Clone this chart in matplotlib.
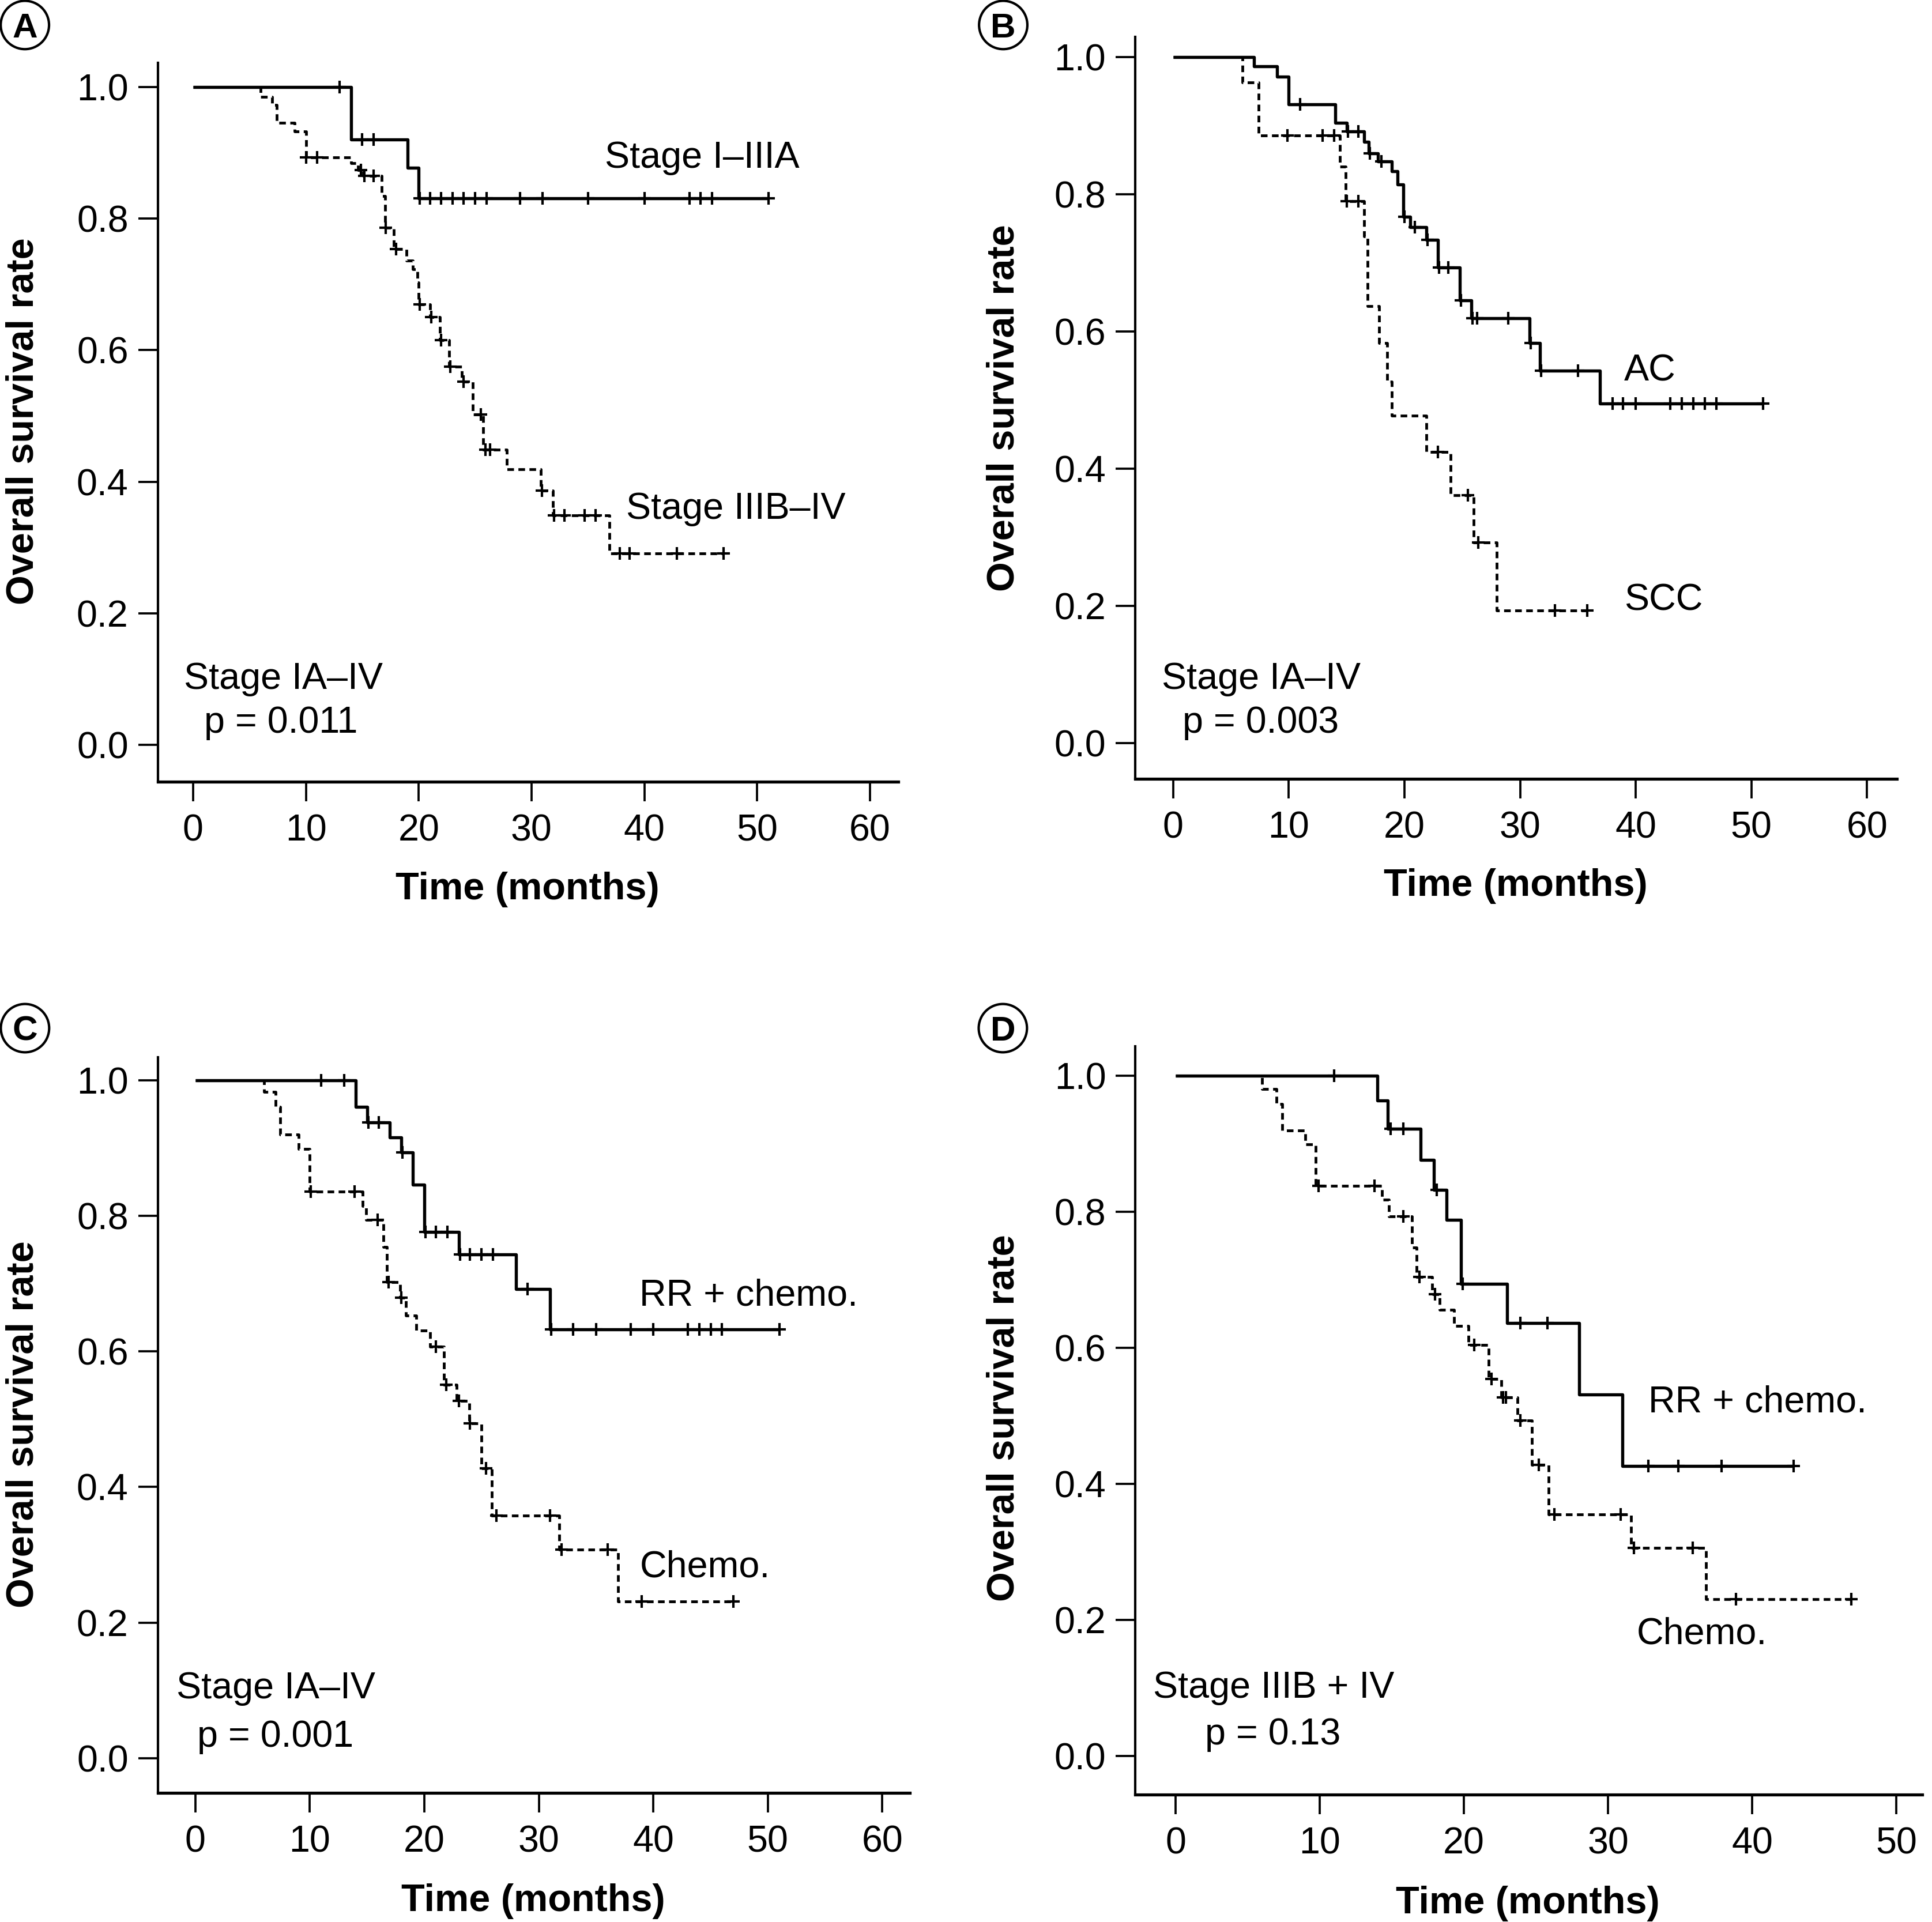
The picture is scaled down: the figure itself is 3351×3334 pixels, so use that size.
import matplotlib
matplotlib.use("Agg")
import matplotlib.pyplot as plt
from matplotlib.patches import Ellipse
import numpy as np

plt.rcParams['font.family'] = ['Liberation Sans', 'DejaVu Sans']

# ---- panel A: stage ----
a_solid_t = [14, 19, 20]
a_solid_s = [0.920, 0.877, 0.831]
a_solid_c = [13, 15, 16, 20.1, 21, 22, 23, 24, 25, 26, 29, 31, 35, 40, 44, 45, 46, 51]

a_dash_t = [6, 7, 7.4, 9, 10, 14, 14.6, 15.1, 16.7, 17, 17.8, 18.9, 19.5, 19.9, 20,
            21, 21.9, 22.7, 23.8, 24.8, 25.7, 27.8, 30.8, 31.9, 36.9]
a_dash_s = [0.985, 0.973, 0.946, 0.933, 0.893, 0.884, 0.874, 0.865, 0.834, 0.786, 0.754,
            0.736, 0.723, 0.703, 0.670, 0.650, 0.615, 0.575, 0.552, 0.502, 0.449, 0.419,
            0.386, 0.349, 0.291]
a_dash_c = [10, 11, 14.9, 15.2, 16, 17.1, 18, 20.1, 21.1, 22, 22.8, 24, 25.5, 25.9, 26.3,
            30.9, 32, 32.9, 34.7, 35.7, 37.8, 38.7, 42.9, 47]

# ---- panel B: histology ----
b_solid_t = [7, 9, 10, 14, 15, 16.5, 16.9, 17.7, 18.9, 19.4, 19.9, 20.5, 21.9, 22.9,
             24.8, 25.8, 30.8, 31.7, 36.9]
b_solid_s = [0.986, 0.971, 0.931, 0.904, 0.891, 0.876, 0.859, 0.848, 0.833, 0.814, 0.767,
             0.752, 0.733, 0.693, 0.645, 0.619, 0.583, 0.543, 0.495]
b_solid_c = [11, 15.1, 16, 17, 18, 20, 20.9, 22, 23, 23.8, 24.9, 25.9, 26.3, 29, 30.9,
             31.8, 35, 38, 38.9, 40, 43, 44, 45, 46, 47, 51]

b_dash_t = [6, 7.4, 14.4, 14.9, 16.5, 16.8, 17.8, 18.5, 18.9, 21.9, 24, 26, 28]
b_dash_s = [0.963, 0.885, 0.840, 0.790, 0.738, 0.637, 0.583, 0.527, 0.477, 0.424, 0.361,
            0.292, 0.193]
b_dash_c = [9.9, 12.9, 13.9, 15, 16, 22.9, 25.5, 26.4, 33, 35.8]

# ---- panel C: treatment, all stages ----
c_solid_t = [14, 15, 17, 18, 19, 20, 23, 28, 31]
c_solid_s = [0.961, 0.938, 0.916, 0.894, 0.846, 0.776, 0.743, 0.692, 0.633]
c_solid_c = [11, 13, 15.1, 16, 18.1, 20.1, 21, 22, 23.1, 24, 25, 26, 29, 31.1, 33, 35,
             38, 40, 43, 44, 45, 46, 51]

c_dash_t = [6, 7, 7.4, 9, 10, 14.6, 14.9, 16.4, 16.7, 17.9, 18.4, 19.3, 20.5, 21.7, 22.8,
            23.9, 25, 25.9, 31.8, 36.9]
c_dash_s = [0.983, 0.961, 0.920, 0.899, 0.836, 0.815, 0.794, 0.754, 0.702, 0.679, 0.653,
            0.631, 0.607, 0.551, 0.527, 0.494, 0.428, 0.358, 0.308, 0.231]
c_dash_c = [10.1, 13.9, 15.9, 16.9, 18, 21, 21.9, 23, 24, 25.4, 26.3, 31, 32, 36, 39, 47]

# ---- panel D: treatment, stage IIIB + IV ----
d_solid_t = [14, 14.7, 17, 17.9, 18.8, 19.8, 23, 28, 31]
d_solid_s = [0.963, 0.922, 0.876, 0.832, 0.788, 0.694, 0.636, 0.531, 0.426]
d_solid_c = [11, 14.9, 15.8, 18.1, 19.9, 23.9, 25.8, 32.8, 34.9, 37.9, 42.9]

d_dash_t = [6, 7, 7.4, 9, 9.7, 14.3, 14.8, 16.4, 16.7, 17.8, 18.3, 19.3, 20.3, 21.7, 22.6,
            23.7, 24.7, 25.9, 31.6, 36.8]
d_dash_s = [0.980, 0.958, 0.919, 0.899, 0.838, 0.818, 0.793, 0.747, 0.704, 0.679, 0.656,
            0.632, 0.604, 0.554, 0.527, 0.493, 0.428, 0.355, 0.306, 0.230]
d_dash_c = [9.9, 13.8, 15.8, 16.9, 18, 20.7, 21.9, 22.7, 22.9, 23.9, 25.2, 26.3, 30.9,
            31.8, 35.9, 38.9, 46.9]

DASH = (0, (2.4, 1.6))


def km(ax, times, surv, cens, ls):
    end = max(cens)
    x = [0] + times + [end]
    y = [1.0] + surv + [surv[-1]]
    ax.step(x, y, where='post', color='black', lw=1.3 if ls == '-' else 1.15,
            linestyle=ls, solid_capstyle='butt')
    idx = np.searchsorted(times, cens, side='right')
    cy = [1.0 if i == 0 else surv[i - 1] for i in idx]
    ax.plot(cens, cy, linestyle='none', marker='+', color='black',
            markersize=5.5, markeredgewidth=1.0)


def style(ax, xmax_tick, xlim, ylim):
    for s in ['top', 'right']:
        ax.spines[s].set_visible(False)
    ax.spines['left'].set_linewidth(1.0)
    ax.spines['bottom'].set_linewidth(1.25)
    ax.set_xlim(*xlim)
    ax.set_ylim(*ylim)
    ax.set_xticks(np.arange(0, xmax_tick + 1, 10))
    ax.set_yticks([0.0, 0.2, 0.4, 0.6, 0.8, 1.0])
    ax.set_yticklabels(['0.0', '0.2', '0.4', '0.6', '0.8', '1.0'])
    ax.tick_params(direction='out', length=8.2, width=0.9, labelsize=15.5, pad=4)
    ax.tick_params(axis='x', pad=5)
    ax.set_xlabel('Time (months)', fontsize=16, fontweight='bold')
    ax.set_ylabel('Overall survival rate', fontsize=16, fontweight='bold')


W, H = 1568.0, 1560.0
fig = plt.figure(figsize=(3351 / 300, 3334 / 300), dpi=300)


def box(l, r, b, t):
    return [l / W, 1 - b / H, (r - l) / W, (b - t) / H]


axA = fig.add_axes(box(128, 729, 634.5, 51))
axB = fig.add_axes(box(921.2, 1539.6, 632.3, 30))
axC = fig.add_axes(box(128, 738.4, 1455.2, 858.2))
axD = fig.add_axes(box(921.5, 1560, 1456.7, 849.3))

km(axA, a_solid_t, a_solid_s, a_solid_c, '-')
km(axA, a_dash_t, a_dash_s, a_dash_c, DASH)
style(axA, 60, (-3.13, 62.5), (-0.0563, 1.0369))

km(axB, b_solid_t, b_solid_s, b_solid_c, '-')
km(axB, b_dash_t, b_dash_s, b_dash_c, DASH)
style(axB, 60, (-3.3, 62.6), (-0.0526, 1.029))

km(axC, c_solid_t, c_solid_s, c_solid_c, '-')
km(axC, c_dash_t, c_dash_s, c_dash_c, DASH)
style(axC, 60, (-3.29, 62.4), (-0.0513, 1.034))

km(axD, d_solid_t, d_solid_s, d_solid_c, '-')
km(axD, d_dash_t, d_dash_s, d_dash_c, DASH)
style(axD, 50, (-2.79, 51.8), (-0.0574, 1.043))

# axis titles placed in figure coordinates
for ax, (lx, ly), (tx, ty) in [(axA, (19, 342), (428, 722)),
                               (axB, (815, 331), (1230, 719)),
                               (axC, (19, 1156), (433, 1543)),
                               (axD, (815, 1151), (1240, 1545))]:
    ax.yaxis.set_label_coords(lx / W, 1 - ly / H, transform=fig.transFigure)
    ax.yaxis.label.set_va('center')
    ax.xaxis.set_label_coords(tx / W, 1 - ty / H, transform=fig.transFigure)
    ax.xaxis.label.set_va('center')

fs = 15.5
axA.text(36.5, 0.892, 'Stage I\u2013IIIA', fontsize=fs, va='center')
axA.text(38.4, 0.358, 'Stage IIIB\u2013IV', fontsize=fs, va='center')
axA.text(-0.8, 0.100, 'Stage IA\u2013IV', fontsize=fs, va='center')
axA.text(1.0, 0.033, 'p = 0.011', fontsize=fs, va='center')

axB.text(39.0, 0.542, 'AC', fontsize=fs, va='center')
axB.text(39.0, 0.208, 'SCC', fontsize=fs, va='center')
axB.text(-1.0, 0.093, 'Stage IA\u2013IV', fontsize=fs, va='center')
axB.text(0.8, 0.029, 'p = 0.003', fontsize=fs, va='center')

axC.text(38.8, 0.682, 'RR + chemo.', fontsize=fs, va='center')
axC.text(38.8, 0.282, 'Chemo.', fontsize=fs, va='center')
axC.text(-1.66, 0.103, 'Stage IA\u2013IV', fontsize=fs, va='center')
axC.text(0.16, 0.031, 'p = 0.001', fontsize=fs, va='center')

axD.text(32.8, 0.520, 'RR + chemo.', fontsize=fs, va='center')
axD.text(32.0, 0.179, 'Chemo.', fontsize=fs, va='center')
axD.text(-1.56, 0.100, 'Stage IIIB + IV', fontsize=fs, va='center')
axD.text(2.04, 0.031, 'p = 0.13', fontsize=fs, va='center')

# circled panel letters
r = 19.6
for letter, (cx, cy) in zip('ABCD', [(20.2, 20.3), (814.2, 20.3), (20.3, 834.5), (813.9, 834.5)]):
    fig.patches.append(Ellipse((cx / W, 1 - cy / H), 2 * r / W, 2 * r / H,
                               transform=fig.transFigure, fill=False,
                               edgecolor='black', lw=1.0))
    fig.text(cx / W, 1 - cy / H, letter, fontsize=14.5, fontweight='bold',
             ha='center', va='center_baseline')

fig.savefig('out.png', dpi=300)
